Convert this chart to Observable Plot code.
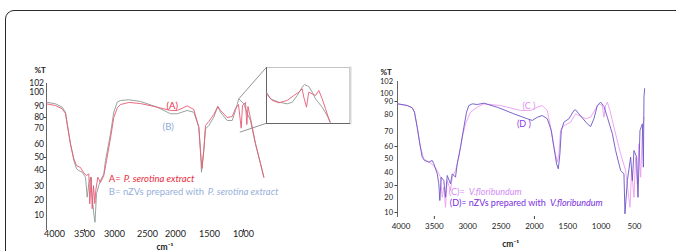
<!DOCTYPE html>
<html><head><meta charset="utf-8">
<script src="https://cdn.jsdelivr.net/npm/d3@7"></script>
<script src="https://cdn.jsdelivr.net/npm/@observablehq/plot@0.6"></script>
<style>
html,body{margin:0;padding:0;background:#fff;overflow:hidden;}
#wrap{position:relative;width:676px;height:251px;overflow:hidden;font-family:Lato,sans-serif;}
#border{position:absolute;left:5px;top:10px;width:800px;height:400px;border:1.5px solid #2a2a2a;border-radius:9px;box-sizing:border-box;}
#wrap svg{position:absolute;left:0;top:0;}
</style></head><body><div id="wrap"><div id="border"></div></div>
<script>
// ---- Left panel (P. serotina) ----
const leftXTicks = [4000,3500,3000,2500,2000,1500,1000];
const leftYTicks = [10,20,30,40,50,60,70,80,90,100,102];
const aWave = [4133,3983,3872,3817,3788,3733,3678,3633,3567,3517,3467,3428,3412,3388,3372,3350,3328,3312,3278,3233,3178,3133,3067,3012,2955,2909,2783,2606,2327,2089,1975,1828,1731,1657,1632,1610,1584,1559,1510,1437,1378,1338,1240,1166,1118,1074,1034,1015,971,951,934,897,824,750,701];
const aT = [91.9,90.7,87.9,83.6,73.6,60,49.2,43.8,42.3,38.8,36.9,37.9,17.8,35.8,14.5,30.6,18,27.2,35.8,32.5,36.9,47.7,63.8,80,89.1,91.4,92.9,92.1,89.4,86.4,86.4,90.4,87.3,71.2,53.8,41.6,55.4,72.7,76.4,82.7,90,86.4,80,80.9,88.2,91.4,70.3,90.7,92.9,73.6,90,79.1,60.6,45.4,35.8];
const bWave = [4133,3983,3872,3817,3788,3733,3678,3633,3595,3538,3483,3455,3428,3400,3372,3345,3325,3300,3262,3233,3178,3150,3067,3012,2959,2909,2783,2606,2327,2089,1975,1828,1731,1657,1632,1618,1584,1559,1510,1437,1378,1338,1240,1166,1118,1069,995,945,897,824,750,701];
const bT = [93.1,91.9,89.4,84.8,74.3,60.4,47.7,41.3,40,38.9,35.8,22.4,31.7,35.8,22.4,11.1,5.5,24.8,30.6,33.8,37.9,47.7,66.7,84.8,93.1,94.3,94.8,93.6,89.4,83.4,83.4,86.4,84.8,71.2,55.4,38.9,55.4,69.7,72.7,80.3,90,84.8,77.3,77.3,86.4,95.5,91.9,83.4,77.3,60.4,45.2,35.8];
// inset (zoom of ~1250-850 cm-1)
const insetWaveB = [1250,1225,1173,1121,1089,1058,1027,1013,986,964,944,902,871,850];
const insetTB = [71,63.3,59.4,57.5,59.4,67.2,76.8,79.9,77.6,71,63.3,53.6,43.9,36.2];
const insetWaveA = [1250,1214,1173,1121,1079,1048,1027,1017,1000,986,964,944,923,902,881,854];
const insetTA = [69.1,61.4,58.7,61.4,67.2,71,74.9,65.2,53.6,71,69.1,67.2,73,63.3,51.7,36.2];
const zoomLinks = [{x1:1069,y1:95.5,x2:662,y2:105.6},{x1:1054,y1:67.7,x2:662,y2:74.8}];

// ---- Right panel (V. floribundum) ----
const rightXTicks = [4000,3500,3000,2500,2000,1500,1000,500];
const rightYTicks = [10,20,30,40,50,60,70,80,90,100,102];
const cWave = [4048,3907,3832,3798,3757,3708,3658,3583,3508,3457,3408,3382,3358,3333,3307,3258,3232,3183,3133,3082,3033,2958,2857,2758,2508,2208,2058,1957,1882,1807,1758,1708,1657,1633,1608,1558,1458,1383,1333,1233,1158,1083,1033,982,958,932,907,868,808,708,633,598,568,543,508,483,457,433,408,382,358];
const cT = [88.2,86.9,85.2,81.8,72.5,59.4,49.8,47.4,45,41.4,36.4,20.2,28.6,13.5,33.8,25.8,36.4,41.4,51.1,66.2,74.5,81.8,85.6,88.2,86.9,83.1,83.1,85.6,86.9,83.1,72.5,59.4,47.4,53.9,70.6,73.5,75.5,80.5,79.4,77.5,78.4,84.4,88.2,86.9,78.4,86.9,89.5,83.1,72.5,53.9,41.4,25.8,13.5,41.4,20.2,51.1,31.3,61.8,36.4,68.5,78.4];
const dWave = [4048,3907,3832,3798,3757,3718,3682,3648,3583,3532,3508,3457,3433,3418,3397,3358,3333,3307,3258,3232,3183,3157,3108,3058,3018,2983,2932,2857,2758,2557,2308,2107,2032,1957,1882,1807,1747,1708,1668,1642,1618,1597,1558,1483,1408,1383,1333,1207,1158,1108,1057,1008,958,907,832,783,708,658,643,607,558,532,508,468,448,418,382,367,358,348];
const dT = [88.2,86.9,85.2,81.8,72.5,61.8,51.1,48.6,47.4,48.6,46.2,39,31.3,18,36.4,33.8,20.2,37.7,31.3,39,36.4,46.2,59.4,72.5,81.8,86.9,88.2,87.7,88.7,85.6,80.5,77.5,76.5,78.4,79.4,77.5,70.6,59.4,46.2,42.6,53.9,70.6,75.5,77.5,83.1,83.6,80.5,74.5,72.9,77.5,86.9,89.5,86.2,78.4,68.5,56.7,41.4,39,9.1,33.8,51.1,33.8,56.7,51.1,20.2,70.6,74.5,43.8,95.4,100.8];

const pts = (w, t) => w.map((v, i) => ({w: v, t: t[i]}));
const svgStyle = "background:transparent;overflow:visible;font-family:Lato,sans-serif;";
const fmt = d => String(d);

const left = Plot.plot({
  width: 676, height: 251, marginLeft: 46, marginTop: 83, marginBottom: 22, marginRight: 400,
  style: svgStyle,
  x: {type: "linear", domain: leftXTicks, range: [54,84,114,147,175,209,243], axis: null, label: null},
  y: {type: "linear", domain: leftYTicks, range: [215,200,186,170,157,144,128,117,106,92,83], axis: null, label: null},
  marks: [
    Plot.frame({anchor: "left", stroke: "#666"}),
    Plot.axisY(leftYTicks, {anchor: "left", tickSize: 0, tickPadding: 2.5, fontSize: 8.5, fill: "#222", tickFormat: fmt}),
    Plot.axisY([80,50,40], {anchor: "left", tickSize: 2.5, text: null, stroke: "#444"}),
    Plot.axisX(leftXTicks, {anchor: "bottom", tickSize: 0, tickPadding: 1, fontSize: 9, fill: "#222", tickFormat: fmt}),
    Plot.axisX([3500,1000], {anchor: "bottom", tickSize: 3, text: null, stroke: "#444"}),
    Plot.link(zoomLinks, {x1: "x1", y1: "y1", x2: "x2", y2: "y2", stroke: "#777", strokeWidth: 0.8}),
    Plot.line(pts(bWave, bT), {x: "w", y: "t", stroke: "#8a9a92", strokeWidth: 0.9}),
    Plot.line(pts(aWave, aT), {x: "w", y: "t", stroke: "#e85a75", strokeWidth: 0.9}),
    Plot.text(["%T"], {frameAnchor: "top-left", dx: -12, dy: -16, textAnchor: "start", fontSize: 8, fontWeight: "bold", fill: "#222"}),
    Plot.text(["cm\u207B\u00B9"], {frameAnchor: "bottom-left", dx: 110, dy: 20, fontSize: 8.5, fontWeight: "bold", fill: "#222"}),
    Plot.text(["(A)"], {x: 2059, y: 90.7, fontSize: 9.5, fill: "#e8323f"}),
    Plot.text(["(B)"], {x: 2130, y: 71.8, fontSize: 9.5, fill: "#8fa8d6"}),
    Plot.text(["A="], {x: 3095, y: 34.8, textAnchor: "start", fontSize: 9.5, fill: "#e82a3a"}),
    Plot.text(["P. serotina extract"], {x: 3095, y: 34.8, dx: 15, textAnchor: "start", fontSize: 9.5, fontStyle: "italic", fill: "#e82a3a"}),
    Plot.text(["B= nZVs prepared with "], {x: 3095, y: 26.4, textAnchor: "start", fontSize: 9.5, fill: "#97b0da"}),
    Plot.text(["P. serotina extract"], {x: 3095, y: 26.4, dx: 99, textAnchor: "start", fontSize: 9.5, fontStyle: "italic", fill: "#97b0da"})
  ]
});

const inset = Plot.plot({
  width: 676, height: 251, marginLeft: 266, marginRight: 327, marginTop: 67, marginBottom: 128,
  style: svgStyle,
  x: {domain: [1250, 850], range: [266, 330], axis: null},
  y: {domain: [35, 100], range: [122.7, 66.7], axis: null},
  marks: [
    Plot.frame({fill: "white", stroke: "#c4c4c4"}),
    Plot.frame({anchor: "right", stroke: "#d8d8d8", strokeWidth: 2, dx: 1}),
    Plot.frame({anchor: "left", stroke: "#666"}),
    Plot.frame({anchor: "bottom", stroke: "#666"}),
    Plot.line(pts(insetWaveB, insetTB), {x: "w", y: "t", stroke: "#8a9a92", strokeWidth: 0.9}),
    Plot.line(pts(insetWaveA, insetTA), {x: "w", y: "t", stroke: "#e85a75", strokeWidth: 0.9})
  ]
});

const right = Plot.plot({
  width: 676, height: 251, marginLeft: 397, marginTop: 81, marginBottom: 35, marginRight: 20,
  style: svgStyle,
  x: {type: "linear", domain: [4000, 500], range: [400.5, 634], axis: null, label: null},
  y: {type: "linear", domain: rightYTicks, range: [212,197,185,172,158,146,131,114,101,93,81], axis: null, label: null},
  marks: [
    Plot.frame({anchor: "left", stroke: "#666"}),
    Plot.axisY(rightYTicks, {anchor: "left", tickSize: 0, tickPadding: 4.5, fontSize: 7.5, fill: "#222", tickFormat: fmt}),
    Plot.axisY([90,60,30,10], {anchor: "left", tickSize: 2.5, text: null, stroke: "#444"}),
    Plot.axisX(rightXTicks, {anchor: "bottom", tickSize: 0, tickPadding: 7, fontSize: 8, fill: "#222", tickFormat: fmt}),
    Plot.axisX([3500,2000], {anchor: "bottom", tickSize: 3, text: null, stroke: "#444"}),
    Plot.line(pts(cWave, cT), {x: "w", y: "t", stroke: "#ee9cf0", strokeWidth: 0.9}),
    Plot.line(pts(dWave, dT), {x: "w", y: "t", stroke: "#6a55c4", strokeWidth: 0.9}),
    Plot.text(["%T"], {frameAnchor: "top-left", dx: -17, dy: -11.7, textAnchor: "start", fontSize: 8, fontWeight: "bold", fill: "#222"}),
    Plot.text(["cm\u207B\u00B9"], {frameAnchor: "bottom-left", dx: 104.7, dy: 30.7, fontSize: 8.5, fontWeight: "bold", fill: "#222"}),
    Plot.text(["(C )"], {x: 2083, y: 86.2, fontSize: 9, fill: "#e090f0"}),
    Plot.text(["(D )"], {x: 2158, y: 74.5, fontSize: 9, fill: "#8a3ae8"}),
    Plot.text(["(C)="], {x: 3283, y: 24.4, textAnchor: "start", fontSize: 9, fill: "#d48cf6"}),
    Plot.text(["V.floribundum"], {x: 3283, y: 24.4, dx: 20, textAnchor: "start", fontSize: 9, fontStyle: "italic", fill: "#d48cf6"}),
    Plot.text(["(D)= nZVs prepared with"], {x: 3268, y: 16.2, textAnchor: "start", fontSize: 9, fill: "#7b2ee0"}),
    Plot.text(["V.floribundum"], {x: 1768, y: 16.2, textAnchor: "start", fontSize: 9, fontStyle: "italic", fill: "#7b2ee0"})
  ]
});

const wrap = document.getElementById("wrap");
wrap.appendChild(left);
wrap.appendChild(right);
wrap.appendChild(inset);
</script>
</body></html>
